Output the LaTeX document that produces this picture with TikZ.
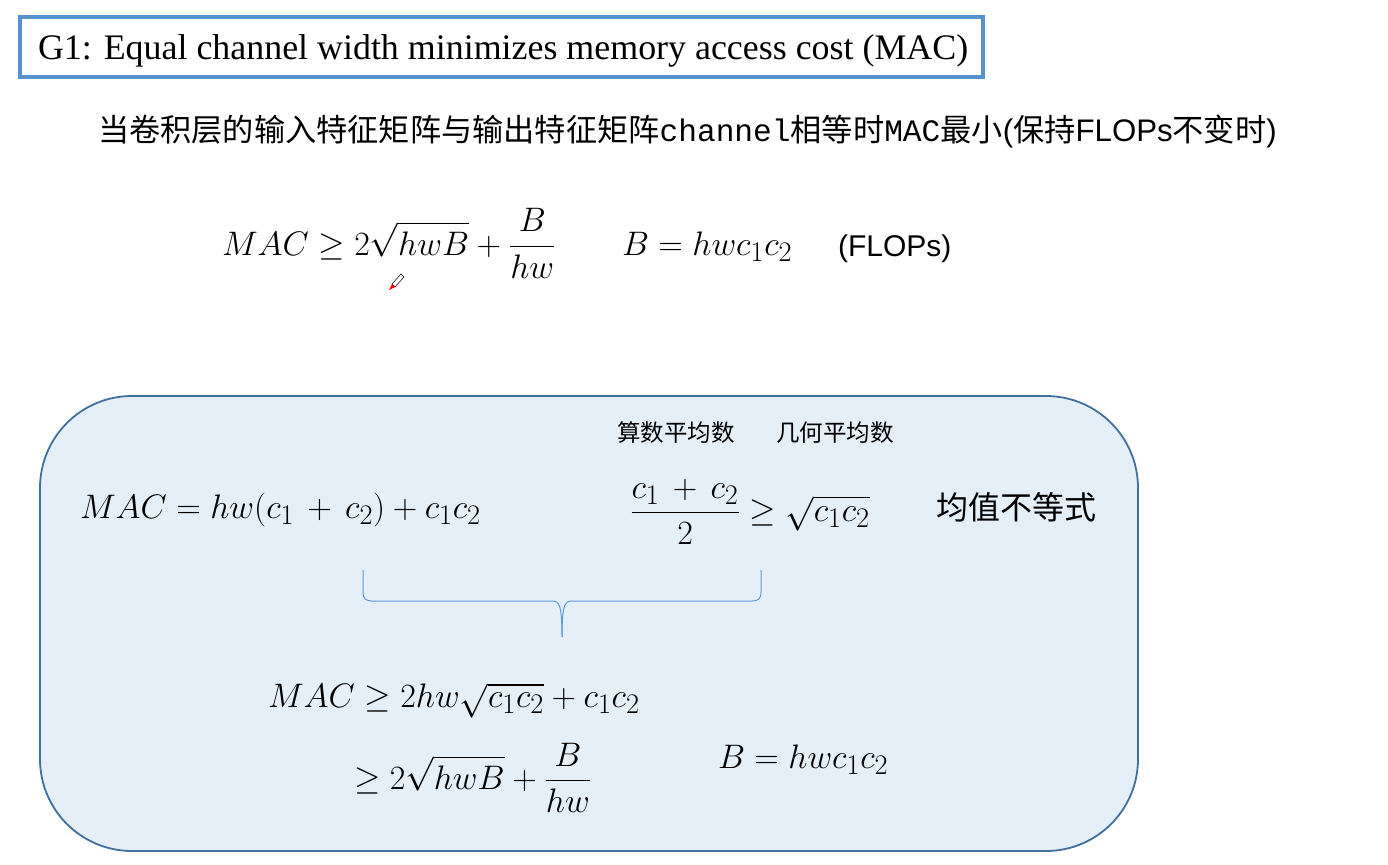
\documentclass[tikz,border=0pt]{standalone}
\usepackage{graphicx}
\usepackage{amsmath,amssymb}
\usepackage{fontspec}
\setmainfont{Liberation Serif}
\newfontfamily\cjk{Noto Sans CJK SC}
\newfontfamily\arial{Liberation Sans}
\newfontfamily\mono{Liberation Mono}
\newcommand\mybig[1]{\scalebox{1.3666}{#1}}
\definecolor{titleblue}{HTML}{5691D0}
\definecolor{boxfill}{HTML}{E5EFF8}
\definecolor{boxline}{HTML}{41719C}
\definecolor{bracec}{HTML}{5B9BD5}
\tikzset{
  titlebox/.style={draw=titleblue, line width=4pt, fill=white},
  bigbox/.style={draw=boxline, line width=1.8pt, fill=boxfill, rounded corners=92pt},
  txt/.style={inner sep=0pt, outer sep=0pt, anchor=base west},
  mathf/.style={txt, font=\fontsize{24.88}{30}\selectfont},
  label/.style={txt, font=\cjk\fontsize{23.5}{26}\selectfont},
  bracestyle/.style={draw=bracec, line width=1pt},
  cursorbody/.style={fill=white, draw=black, line width=0.5pt},
  cursortip/.style={fill=red}
}
\begin{document}
\begin{tikzpicture}[x=1pt,y=-1pt]
\useasboundingbox (0,0) rectangle (1388,864);
\fill[white] (0,0) rectangle (1388,864);
% title
\draw[titlebox] (20,17) rectangle (983,77);
\node[txt, font=\fontsize{35.9}{40}\selectfont] (title) at (38,60) {G1: Equal channel width minimizes memory access cost (MAC)};
% chinese line
\node[txt, font=\fontsize{31.2}{36}\selectfont] (cn) at (98,142) {\cjk 当卷积层的输入特征矩阵与输出特征矩阵\mono channel\cjk 相等时\mono MAC\cjk 最小\arial (\cjk 保持\arial FLOPs\cjk 不变时\arial )};
% first formula
\node[mathf] (f1) at (222,255) {\mybig{$\displaystyle MAC \geq 2\sqrt{hwB}+\frac{B}{hw}$}};
\node[mathf] (f1b) at (622,255) {\mybig{$B = hwc_1c_2$}};
\node[txt, font=\arial\fontsize{30}{34}\selectfont] (flops) at (838,256) {(FLOPs)};
% mouse cursor
\filldraw[cursorbody] (392,284) -- (401,274) -- (404,277) -- (395,287) -- cycle;
\fill[cursortip] (389,290) -- (392,284) -- (395,287) -- cycle;
% big box
\draw[bigbox] (40,396) rectangle (1138,851);
\node[label] (am) at (617,441) {算数平均数};
\node[label] (gm) at (776,441) {几何平均数};
\node[mathf] (mac1) at (80,518) {\mybig{$MAC = hw(c_1\,+\,c_2)+c_1c_2$}};
\node[mathf] (ineq) at (630,521) {\mybig{$\displaystyle \frac{c_1\,+\,c_2}{2} \geq \sqrt{c_1c_2}$}};
\node[txt, font=\cjk\fontsize{32}{36}\selectfont] (jz) at (936,519) {均值不等式};
\node[mathf] (mac2) at (268,707) {\mybig{$MAC \geq 2hw\sqrt{c_1c_2}+c_1c_2$}};
\node[mathf] (mac3) at (354,789) {\mybig{$\displaystyle \geq 2\sqrt{hwB}+\frac{B}{hw}$}};
\node[mathf] (bdef) at (718,768) {\mybig{$B = hwc_1c_2$}};
% brace
\coordinate (bl) at (363,570);
\coordinate (br) at (761,570);
\coordinate (bt) at (562,637);
\draw[bracestyle] (bl) -- (363,592) .. controls (363,599) and (366,601) .. (372,601) -- (552,601) .. controls (559,601) and (562,604) .. (bt);
\draw[bracestyle] (bt) .. controls (562,604) and (565,601) .. (572,601) -- (752,601) .. controls (758,601) and (761,599) .. (761,592) -- (br);
\end{tikzpicture}
\end{document}
